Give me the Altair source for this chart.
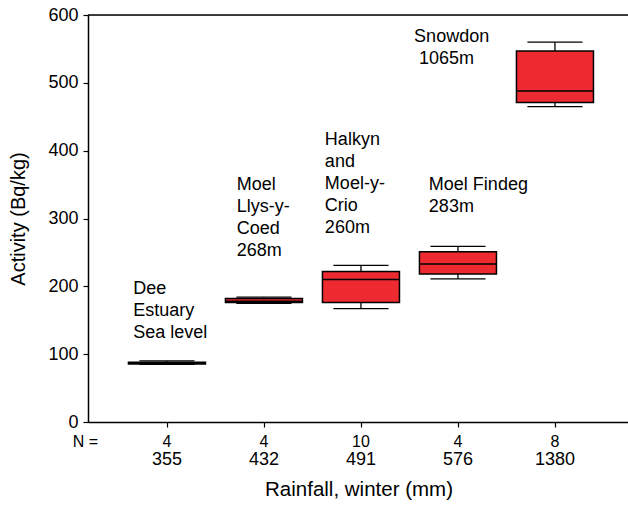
import altair as alt
import pandas as pd

# ---- data ----
idx = [1, 2, 3, 4, 5]
rainfall = ["355", "432", "491", "576", "1380"]
n_vals = ["4", "4", "10", "4", "8"]
mins = [85, 175, 167, 211, 465]
q1s = [85.5, 176, 176, 218, 471]
medians = [86.5, 178, 210, 233, 488]
q3s = [88, 182, 222, 251, 547]
maxs = [90, 184, 231, 259, 560]

site_labels = ["Dee\nEstuary\nSea level", "Moel\nLlys-y-\nCoed\n268m",
               "Halkyn\nand\nMoel-y-\nCrio\n260m", "Moel Findeg\n283m",
               "Snowdon", "1065m"]
label_x = [0.653, 1.719, 2.628, 3.70, 3.548, 3.598]
label_y = [209, 362, 428.5, 362, 580.5, 548]

FONT = "Liberation Sans"
W, H = 540, 407
BOX_HALF = 0.397
CAP_HALF = 0.284

df = pd.DataFrame({"i": idx, "rain": rainfall, "n": n_vals, "lo": mins,
                   "q1": q1s, "med": medians, "q3": q3s, "hi": maxs})
lab = pd.DataFrame({"x": label_x, "y": label_y, "t": site_labels})

xs = alt.Scale(domain=[0.186, 5.753], nice=False, zero=False)
ys = alt.Scale(domain=[0, 600], nice=False)

base = alt.Chart(df).transform_calculate(
    bl=f"datum.i - {BOX_HALF}", br=f"datum.i + {BOX_HALF}",
    cl=f"datum.i - {CAP_HALF}", cr=f"datum.i + {CAP_HALF}")

xaxis = alt.Axis(values=[1, 2, 3, 4, 5], labels=False, title=None, grid=False,
                 domainColor="black", domainWidth=1.5, tickColor="black",
                 tickSize=5, tickWidth=1.2)
yaxis = alt.Axis(values=[0, 100, 200, 300, 400, 500, 600], title="Activity (Bq/kg)",
                 grid=False, domainColor="black", domainWidth=1.5, tickColor="black",
                 tickSize=5, tickWidth=1.2, labelFont=FONT, labelFontSize=18,
                 labelColor="black", labelPadding=5, titleFont=FONT, titleFontSize=20,
                 titleFontWeight="normal", titleColor="black", titlePadding=19)

whisk_lo = base.mark_rule(color="black", strokeWidth=1.3).encode(
    x=alt.X("i:Q", scale=xs, axis=xaxis), y=alt.Y("lo:Q", scale=ys, axis=yaxis), y2="q1:Q")
whisk_hi = base.mark_rule(color="black", strokeWidth=1.3).encode(
    x="i:Q", y="q3:Q", y2="hi:Q")
cap_lo = base.mark_rule(color="black", strokeWidth=1.3).encode(
    x="cl:Q", x2="cr:Q", y="lo:Q")
cap_hi = base.mark_rule(color="black", strokeWidth=1.3).encode(
    x="cl:Q", x2="cr:Q", y="hi:Q")
box = base.mark_rect(fill="#EC2A2F", stroke="black", strokeWidth=1.5).encode(
    x="bl:Q", x2="br:Q", y="q1:Q", y2="q3:Q")
med = base.mark_rule(color="black", strokeWidth=1.5).encode(
    x="bl:Q", x2="br:Q", y="med:Q")

top_line = alt.Chart(pd.DataFrame({"v": [600]})).mark_rule(
    color="black", strokeWidth=1.5).encode(y="v:Q", x=alt.value(0), x2=alt.value(W))

labels = alt.Chart(lab).mark_text(align="left", baseline="top", font=FONT,
                                  fontSize=18, lineBreak="\n", lineHeight=22,
                                  color="black").encode(x="x:Q", y="y:Q", text="t:N")

n_text = alt.Chart(df).mark_text(font=FONT, fontSize=16, color="black",
                                 baseline="middle").encode(
    x="i:Q", y=alt.value(H + 20), text="n:N")
rain_text = alt.Chart(df).mark_text(font=FONT, fontSize=18, color="black",
                                    baseline="middle").encode(
    x="i:Q", y=alt.value(H + 38), text="rain:N")
n_head = alt.Chart(pd.DataFrame({"t": ["N ="]})).mark_text(
    font=FONT, fontSize=16, color="black", baseline="middle").encode(
    x=alt.value(-2.5), y=alt.value(H + 20), text="t:N")
x_title = alt.Chart(pd.DataFrame({"t": ["Rainfall, winter (mm)"]})).mark_text(
    font=FONT, fontSize=20.5, color="black", baseline="middle").encode(
    x=alt.value(W / 2 + 1), y=alt.value(H + 68), text="t:N")

chart = alt.layer(whisk_lo, whisk_hi, cap_lo, cap_hi, box, med, top_line, labels,
                  n_text, rain_text, n_head, x_title).properties(
    width=W, height=H,
    autosize=alt.AutoSizeParams(type="none"),
    padding={"left": 88, "top": 15, "right": 0, "bottom": 85},
).configure_view(stroke=None).configure(background="white")

chart.save("out.html", embed_options={"renderer": "svg", "actions": False})
